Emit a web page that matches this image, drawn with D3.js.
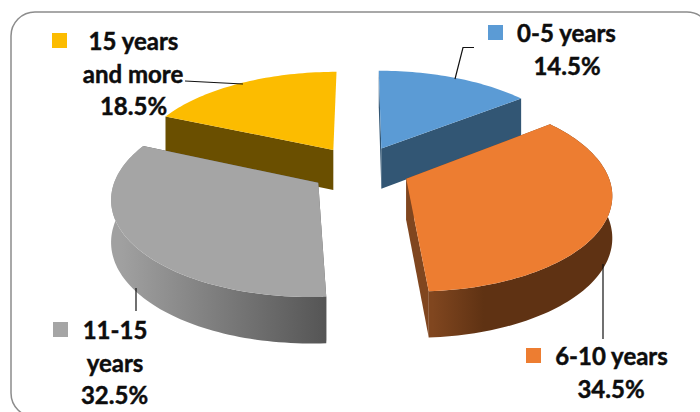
<!DOCTYPE html>
<html><head><meta charset="utf-8">
<script src="https://cdn.jsdelivr.net/npm/d3@7"></script>
<style>html,body{margin:0;padding:0;background:#fff;overflow:hidden}svg{display:block}text{font-family:Lato,"Open Sans",sans-serif;font-weight:700;fill:#0d0d0d;stroke:#0d0d0d;stroke-width:.45px}</style>
</head><body><svg id="c" width="700" height="412"></svg>
<script>
const categories = ["0-5 years","6-10 years","11-15 years","15 years and more"];
const values = [14.5,34.5,32.5,18.5];
const topColors = ["#5b9bd5","#ed7d31","#a5a5a5","#fcbc00"];
const sideColors = ["#325674","#6b3616","#5a5a5a","#6a4f00"];
const rimStops = [["#325674","#325674"],["#80461f","#5f3213"],["#a0a0a0","#555555"],["#6a4f00","#6a4f00"]];
const paintOrder = [0,3,2,1];
const labelLines = [["0-5 years","14.5%"],["6-10 years","34.5%"],["11-15","years","32.5%"],["15 years","and more","18.5%"]];

const cx=360, cy=169, A=200, B=94, k=0.14, explode=0.25, depth=41;
const svg=d3.select("#c");
const defs=svg.append("defs");
svg.append("rect").attr("x",11).attr("y",12).attr("width",700).attr("height",405).attr("rx",24)
  .attr("fill","#fff").attr("stroke","#8c8c8c").attr("stroke-width",1.5);

const arcs=d3.pie().sort(null).value(d=>d)(values);
function project(px,py){const s=1/(1+k*py);return {x:cx+A*px*s,y:cy-B*py*s,s};}
const line=d3.line().x(d=>d.x).y(d=>d.y);
const lower=p=>({x:p.x,y:p.y+depth*(1+(p.s-1)*0.7)});

paintOrder.forEach(i=>{
  const a=arcs[i], mid=(a.startAngle+a.endAngle)/2;
  const ox=explode*Math.sin(mid), oy=explode*Math.cos(mid);
  const apex=project(ox,oy);
  const n=Math.ceil((a.endAngle-a.startAngle)*40);
  const rim=d3.range(n+1).map(j=>{const t=a.startAngle+(a.endAngle-a.startAngle)*j/n;
    return project(ox+Math.sin(t),oy+Math.cos(t));});
  const first=rim[0], last=rim[rim.length-1];
  const g=svg.append("g");
  const grad=defs.append("linearGradient").attr("id","rim"+i);
  grad.append("stop").attr("offset",i===1?"0.02":"0.05").attr("stop-color",rimStops[i][0]);
  grad.append("stop").attr("offset",i===1?"0.3":"1").attr("stop-color",rimStops[i][1]);
  // radial side faces (the yellow slice's closing edge faces away from the viewer)
  (i===3?[first]:[first,last]).forEach(p=>{
    g.append("path").attr("d",line([apex,p,lower(p),lower(apex)])+"Z").attr("fill",i===1?rimStops[1][0]:sideColors[i]);
  });
  // outer rim wall
  if(i===1||i===2) g.append("path").attr("d",line(rim.concat(rim.map(lower).reverse()))+"Z").attr("fill",`url(#rim${i})`);
  // top face
  g.append("path").attr("d",line([apex,...rim])+"Z").attr("fill",topColors[i]);
});

const leaders=[[[455,79],[463,47.5],[474,47.5]],[[603,264],[603,339]],[[136,288],[136,311]],[[185,81],[243,84]]];
leaders.forEach(l=>svg.append("path").attr("d",d3.line()(l)).attr("fill","none").attr("stroke","#111").attr("stroke-width",1.2));

const legendBox=[[488,25],[526,348],[53,322],[52,33]];
legendBox.forEach((b,i)=>svg.append("rect").attr("x",b[0]).attr("y",b[1]).attr("width",15).attr("height",15).attr("fill",topColors[i]));

const labelX=[[566.5,567],[611.5,611],[115,115,114.5],[133.5,133,133.5]];
const labelY=[[42,75],[365,398],[339,372,404],[50,83,115]];
labelLines.forEach((ls,i)=>ls.forEach((t,j)=>{
  svg.append("text").attr("x",labelX[i][j]).attr("y",labelY[i][j]).attr("text-anchor","middle")
    .attr("font-size",24).text(t);
}));
</script></body></html>
